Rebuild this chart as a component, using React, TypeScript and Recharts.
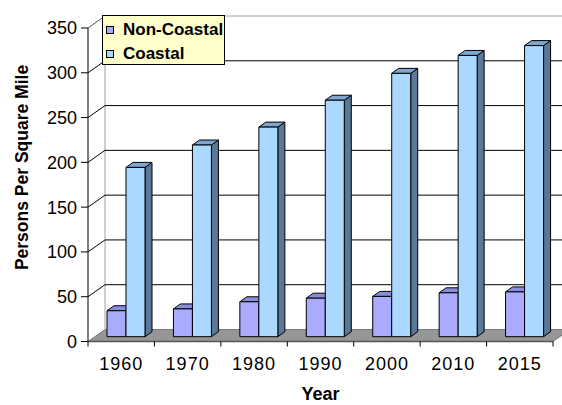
import { BarChart, Bar, XAxis, YAxis, CartesianGrid, Legend } from 'recharts';

const years = ['1960', '1970', '1980', '1990', '2000', '2010', '2015'];
const nonCoastal = [29, 31, 39, 43, 45, 49, 50];
const coastal = [189, 214, 234, 264, 294, 314, 325];
const yTicks = [0, 50, 100, 150, 200, 250, 300, 350];
const seriesNames = ['Non-Coastal', 'Coastal'];

const data = years.map((year, i) => ({ year, nonCoastal: nonCoastal[i], coastal: coastal[i] }));

const W = 562;
const H = 405;
const MARGIN = { top: 28, right: 9, bottom: 0, left: 0 };
const Y_AXIS_W = 88;
const X_AXIS_H = 63.5;
const PLOT_TOP = MARGIN.top;
const PLOT_BOTTOM = H - X_AXIS_H;
const PLOT_LEFT = MARGIN.left + Y_AXIS_W;
const PLOT_RIGHT = W - MARGIN.right;
const BAND = (PLOT_RIGHT - PLOT_LEFT) / years.length;

// oblique offsets for the fake 3d
const WALL = { dx: 17, dy: -12 };
const BAR_SHIFT = { dx: 5, dy: -4.8 };
const BAR_DEPTH = { dx: 7, dy: -5 };

const FONT = "'Liberation Sans', Arial, sans-serif";

const NON_COASTAL = { front: '#aaaaff', top: '#8c8cdc', side: '#6a6ab4' };
const COASTAL = { front: '#aad8ff', top: '#7ea6cf', side: '#5b7896' };

function Bar3D(props: any) {
  const { x, y, width, height, colors } = props;
  if (width == null || height == null) return null;
  const fx = x + BAR_SHIFT.dx;
  const fy = y + BAR_SHIFT.dy;
  const { dx, dy } = BAR_DEPTH;
  const side = `${fx + width},${fy} ${fx + width + dx},${fy + dy} ${fx + width + dx},${fy + height + dy} ${fx + width},${fy + height}`;
  const top = `${fx},${fy} ${fx + dx},${fy + dy} ${fx + width + dx},${fy + dy} ${fx + width},${fy}`;
  return (
    <g stroke="#000" strokeWidth={1} strokeLinejoin="round">
      <polygon points={side} fill={colors.side} />
      <polygon points={top} fill={colors.top} />
      <rect x={fx} y={fy} width={width} height={height} fill={colors.front} />
    </g>
  );
}

function gridLine(props: any) {
  const { x1, y1, x2, index } = props;
  const isTop = Math.abs(y1 - PLOT_TOP) < 0.5;
  const isFloor = Math.abs(y1 - PLOT_BOTTOM) < 0.5;
  const extras =
    index === 0 ? (
      <g>
        <polygon
          points={`${PLOT_LEFT},${PLOT_BOTTOM} ${PLOT_RIGHT},${PLOT_BOTTOM} ${PLOT_RIGHT + WALL.dx},${PLOT_BOTTOM + WALL.dy} ${PLOT_LEFT + WALL.dx},${PLOT_BOTTOM + WALL.dy}`}
          fill="#969696"
          stroke="#7a7a7a"
          strokeWidth={1}
        />
        <line
          x1={PLOT_LEFT + WALL.dx}
          y1={PLOT_TOP + WALL.dy}
          x2={PLOT_LEFT + WALL.dx}
          y2={PLOT_BOTTOM + WALL.dy}
          stroke="#c0c0c0"
          strokeWidth={1.5}
        />
        <line
          x1={PLOT_LEFT + WALL.dx}
          y1={PLOT_TOP + WALL.dy}
          x2={PLOT_RIGHT + WALL.dx}
          y2={PLOT_TOP + WALL.dy}
          stroke="#c0c0c0"
          strokeWidth={1.5}
        />
        <line x1={PLOT_LEFT} y1={PLOT_TOP} x2={PLOT_LEFT + WALL.dx} y2={PLOT_TOP + WALL.dy} stroke="#555" strokeWidth={1} />
      </g>
    ) : null;
  return (
    <g key={`grid-${index}`}>
      {extras}
      {!isTop && !isFloor && (
        <g stroke="#000" strokeWidth={1}>
          <line x1={x1} y1={y1} x2={x1 + WALL.dx} y2={y1 + WALL.dy} />
          <line x1={x1 + WALL.dx} y1={y1 + WALL.dy} x2={x2 + WALL.dx} y2={y1 + WALL.dy} />
        </g>
      )}
    </g>
  );
}

function YearTick(props: any) {
  const { x, y, payload, index } = props;
  const last = index === years.length - 1;
  return (
    <g>
      <line x1={x - BAND / 2} y1={y} x2={x - BAND / 2} y2={y + 5} stroke="#000" />
      {last && <line x1={x + BAND / 2} y1={y} x2={x + BAND / 2} y2={y + 5} stroke="#000" />}
      <text x={x} y={y + 28} textAnchor="middle" fill="#000" fontSize={18} letterSpacing={1} fontFamily={FONT}>
        {payload.value}
      </text>
    </g>
  );
}

function LegendBox(props: any) {
  const { payload = [] } = props;
  const items = seriesNames
    .map((name) => payload.find((p: any) => p.value === name))
    .filter(Boolean);
  return (
    <div
      style={{
        width: 123,
        height: 50,
        boxSizing: 'border-box',
        border: '1px solid #000',
        background: '#ffffcc',
        paddingTop: 2,
        fontFamily: FONT,
        fontWeight: 'bold',
        fontSize: 17,
        color: '#000',
      }}
    >
      {items.map((entry: any) => (
        <div key={entry.value} style={{ height: 24, display: 'flex', alignItems: 'center', whiteSpace: 'nowrap' }}>
          <span
            style={{
              display: 'inline-block',
              width: 8,
              height: 8,
              boxSizing: 'border-box',
              border: '1px solid #000',
              background: entry.color,
              marginLeft: 3,
              marginRight: 9,
            }}
          />
          <span>{entry.value}</span>
        </div>
      ))}
    </div>
  );
}

export default function App() {
  return (
    <div style={{ position: 'fixed', left: 0, top: 0, width: W, height: H, background: '#fff' }}>
      <BarChart width={W} height={H} data={data} margin={MARGIN} barSize={19} barGap={0}>
        <CartesianGrid vertical={false} horizontal={gridLine} />
        <XAxis
          dataKey="year"
          height={X_AXIS_H}
          axisLine={{ stroke: '#555', strokeWidth: 1.5 }}
          tickLine={false}
          tickSize={0}
          tickMargin={0}
          interval={0}
          tick={<YearTick />}
          label={{
            content: () => (
              <text x={(PLOT_LEFT + PLOT_RIGHT) / 2} y={400} textAnchor="middle" fontFamily={FONT} fontWeight="bold" fontSize={18} fill="#000">
                Year
              </text>
            ),
          }}
        />
        <YAxis
          width={Y_AXIS_W}
          domain={[0, 350]}
          ticks={yTicks}
          interval={0}
          axisLine={{ stroke: '#000' }}
          tickLine={{ stroke: '#000' }}
          tickSize={7}
          tickMargin={4}
          tick={{ fill: '#000', fontSize: 18, fontFamily: FONT }}
          label={{
            content: () => (
              <text x={28} y={167.5} transform="rotate(-90 28 167.5)" textAnchor="middle" fontFamily={FONT} fontWeight="bold" fontSize={17.5} fill="#000">
                Persons Per Square Mile
              </text>
            ),
          }}
        />
        <Legend
          layout="horizontal"
          verticalAlign="middle"
          align="center"
          itemSorter={null}
          content={<LegendBox />}
          wrapperStyle={{ left: 102, top: 15, width: 123, height: 50 }}
        />
        <Bar
          dataKey="nonCoastal"
          name="Non-Coastal"
          fill={NON_COASTAL.front}
          isAnimationActive={false}
          shape={(p: any) => <Bar3D {...p} colors={NON_COASTAL} />}
        />
        <Bar
          dataKey="coastal"
          name="Coastal"
          fill={COASTAL.front}
          isAnimationActive={false}
          shape={(p: any) => <Bar3D {...p} colors={COASTAL} />}
        />
      </BarChart>
    </div>
  );
}
